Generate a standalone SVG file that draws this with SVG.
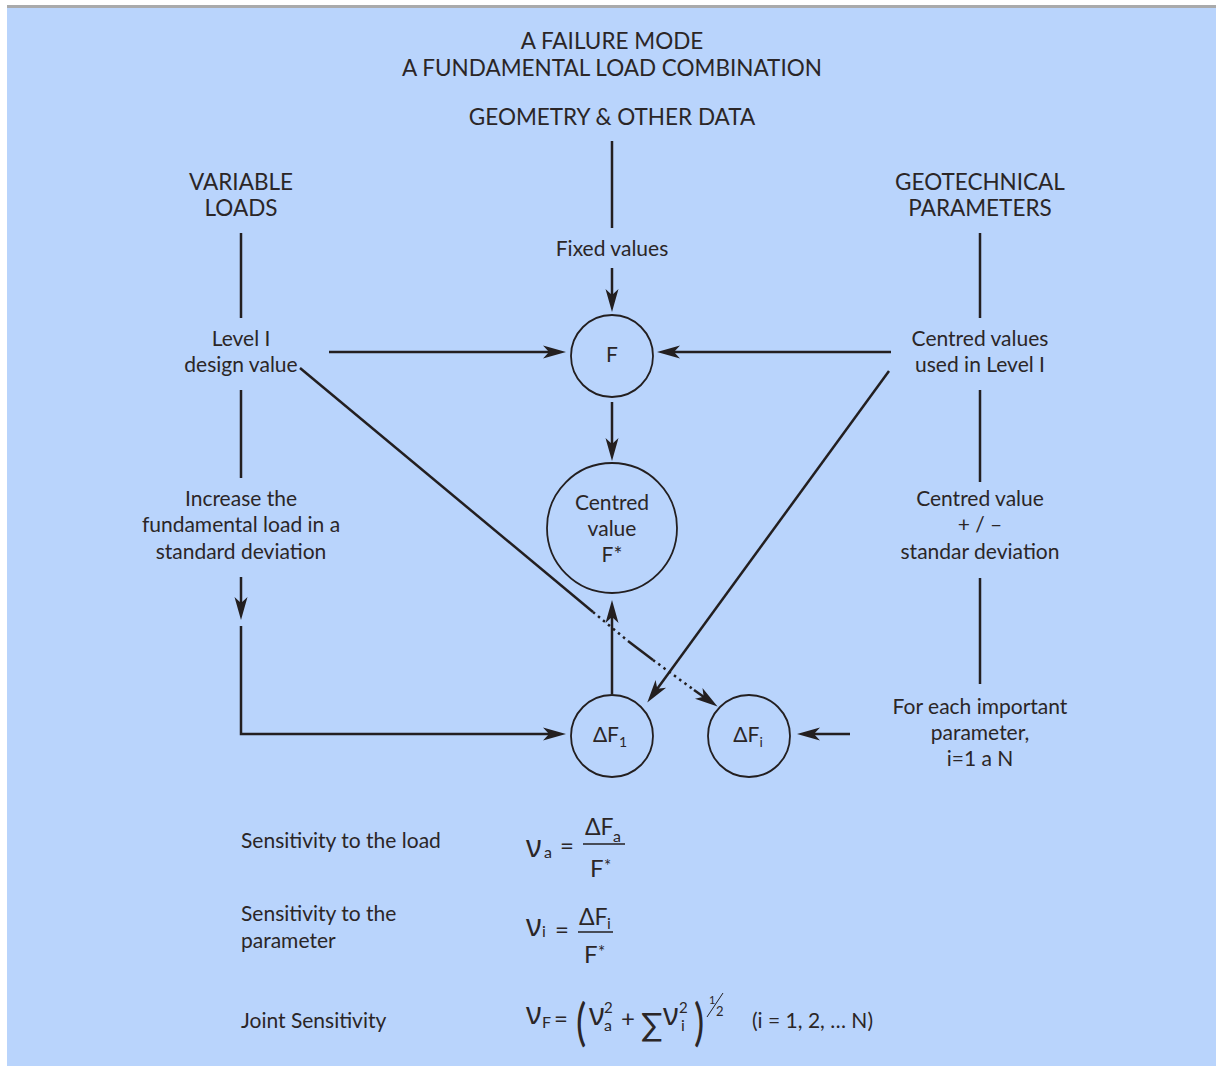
<svg xmlns="http://www.w3.org/2000/svg" width="1216" height="1066" viewBox="0 0 1216 1066">
  <style>
    .t { font-family: Lato, "Noto Sans", "DejaVu Sans", sans-serif; font-size: 21px; fill: #2b2627; text-anchor: middle; }
    .c { font-size: 22.5px; }
    .l { text-anchor: start; }
    .m { font-family: Lato, "Noto Sans", "DejaVu Sans", sans-serif; fill: #2b2627; }
    .nu { font-family: "Noto Sans", "DejaVu Sans", sans-serif; font-size: 30px; fill: #2b2627; }
    .ln { stroke: #231f20; stroke-width: 2.5; fill: none; }
    .ar { stroke: #231f20; stroke-width: 2.5; fill: none; marker-end: url(#head); }
    .dot { stroke: #231f20; stroke-width: 2.5; fill: none; stroke-dasharray: 2.5 4; }
    .node { fill: none; stroke: #231f20; stroke-width: 1.8; }
    .bar { stroke: #231f20; stroke-width: 1.6; }
  </style>
  <defs>
    <marker id="head" markerUnits="userSpaceOnUse" markerWidth="26" markerHeight="16" viewBox="0 -8 26 16" refX="15" refY="0" orient="auto">
      <path d="M0,-6.5 L23,0 L0,6.5 L6,0 Z" fill="#231f20"/>
    </marker>
  </defs>

  <!-- panel -->
  <rect x="7" y="5" width="1209" height="3" fill="#a9aaab"/>
  <rect x="7" y="8" width="1209" height="1058" fill="#b9d4fc"/>

  <!-- headings and labels -->
  <g id="titles">
    <text class="t c" x="612" y="49">A FAILURE MODE</text>
    <text class="t c" x="612" y="76">A FUNDAMENTAL LOAD COMBINATION</text>
    <text class="t c" x="612" y="125">GEOMETRY &amp; OTHER DATA</text>
  </g>
  <g id="variable-loads">
    <text class="t c" x="241" y="190">VARIABLE</text>
    <text class="t c" x="241" y="216">LOADS</text>
  </g>
  <g id="geotechnical">
    <text class="t c" x="980" y="190">GEOTECHNICAL</text>
    <text class="t c" x="980" y="216">PARAMETERS</text>
  </g>
  <g id="fixed-values">
    <text class="t" x="612" y="256">Fixed values</text>
  </g>
  <g id="level-one">
    <text class="t" x="241" y="346">Level I</text>
    <text class="t" x="241" y="372">design value</text>
  </g>
  <g id="centred-values">
    <text class="t" x="980" y="346">Centred values</text>
    <text class="t" x="980" y="372">used in Level I</text>
  </g>
  <g id="increase-load">
    <text class="t" x="241" y="506">Increase the</text>
    <text class="t" x="241" y="532">fundamental load in a</text>
    <text class="t" x="241" y="559">standard deviation</text>
  </g>
  <g id="centred-deviation">
    <text class="t" x="980" y="506">Centred value</text>
    <text class="t" x="980" y="532">+ / –</text>
    <text class="t" x="980" y="559">standar deviation</text>
  </g>
  <g id="each-parameter">
    <text class="t" x="980" y="714">For each important</text>
    <text class="t" x="980" y="740">parameter,</text>
    <text class="t" x="980" y="766">i=1 a N</text>
  </g>

  <!-- circle nodes -->
  <g id="node-F">
    <circle class="node" cx="612" cy="356" r="41"/>
    <text class="t" x="612" y="362">F</text>
  </g>
  <g id="node-Fstar">
    <circle class="node" cx="612" cy="528" r="65"/>
    <text class="t" x="612" y="510">Centred</text>
    <text class="t" x="612" y="536">value</text>
    <text class="t" x="612" y="562">F*</text>
  </g>
  <g id="node-dF1">
    <circle class="node" cx="612" cy="736" r="41"/>
    <text class="t" x="610" y="742">ΔF<tspan font-size="14" dy="5">1</tspan></text>
  </g>
  <g id="node-dFi">
    <circle class="node" cx="749" cy="736" r="41"/>
    <text class="t" x="748" y="742">ΔF<tspan font-size="14" dy="5">i</tspan></text>
  </g>

  <!-- connectors -->
  <g id="connectors">
    <line class="ln" x1="612" y1="141" x2="612" y2="228"/>
    <line class="ar" x1="612" y1="268" x2="612" y2="304"/>
    <line class="ar" x1="329" y1="352" x2="558" y2="352"/>
    <line class="ar" x1="891" y1="352" x2="665" y2="352"/>
    <line class="ar" x1="612" y1="402" x2="612" y2="453"/>
    <line class="ar" x1="612" y1="694" x2="612" y2="608"/>
    <line class="ln" x1="241" y1="233" x2="241" y2="318"/>
    <line class="ln" x1="241" y1="390" x2="241" y2="478"/>
    <line class="ar" x1="241" y1="577" x2="241" y2="612"/>
    <polyline class="ar" points="241,626 241,734 558,734"/>
    <line class="ln" x1="980" y1="233" x2="980" y2="318"/>
    <line class="ln" x1="980" y1="390" x2="980" y2="482"/>
    <line class="ln" x1="980" y1="578" x2="980" y2="684"/>
    <line class="ar" x1="850" y1="734" x2="805" y2="734"/>
    <line class="ar" x1="889" y1="371" x2="652" y2="696"/>
    <!-- diagonal from design value to ΔFi, dotted where it crosses -->
    <line class="ln" x1="300" y1="368" x2="593" y2="612"/>
    <line class="dot" x1="593" y1="612" x2="628" y2="641"/>
    <line class="ln" x1="628" y1="641" x2="653" y2="660"/>
    <line class="dot" x1="653" y1="660" x2="694" y2="690"/>
    <line class="ar" x1="694" y1="690" x2="711" y2="702"/>
  </g>

  <!-- sensitivity formulas -->
  <g id="formulas">
    <text class="t l" x="241" y="848">Sensitivity to the load</text>
    <text class="t l" x="241" y="921">Sensitivity to the</text>
    <text class="t l" x="241" y="948">parameter</text>
    <text class="t l" x="241" y="1028">Joint Sensitivity</text>

    <!-- load sensitivity -->
    <text class="nu" x="526" y="857">ν</text>
    <text class="m" x="544" y="858" font-size="16">a</text>
    <text class="m" x="560" y="854" font-size="24">=</text>
    <text class="m" x="585" y="835" font-size="23">ΔF</text>
    <text class="m" x="613" y="842" font-size="16">a</text>
    <line class="bar" x1="583" y1="844" x2="625" y2="844"/>
    <text class="m" x="590" y="877" font-size="24">F</text>
    <text class="m" x="604" y="872" font-size="17">*</text>

    <!-- parameter sensitivity -->
    <text class="nu" x="526" y="936">ν</text>
    <text class="m" x="542" y="937" font-size="16">i</text>
    <text class="m" x="555" y="938" font-size="24">=</text>
    <text class="m" x="579" y="925" font-size="23">ΔF</text>
    <text class="m" x="607" y="929" font-size="16">i</text>
    <line class="bar" x1="578" y1="932" x2="613" y2="932"/>
    <text class="m" x="584" y="963" font-size="24">F</text>
    <text class="m" x="598" y="958" font-size="17">*</text>

    <!-- joint sensitivity -->
    <text class="nu" x="526" y="1024">ν</text>
    <text class="m" x="542" y="1028" font-size="16">F</text>
    <text class="m" x="554" y="1027" font-size="24">=</text>
    <text class="m" x="576" y="1040" font-size="48" transform="translate(576 1040) scale(0.8 1.05) translate(-576 -1040)">(</text>
    <text class="nu" x="589" y="1025">ν</text>
    <text class="m" x="604" y="1013" font-size="15">2</text>
    <text class="m" x="604" y="1031" font-size="16">a</text>
    <text class="m" x="621" y="1027" font-size="24">+</text>
    <text class="m" x="641" y="1036" font-size="32">∑</text>
    <text class="nu" x="663" y="1025">ν</text>
    <text class="m" x="679" y="1013" font-size="15">2</text>
    <text class="m" x="681" y="1031" font-size="16">i</text>
    <text class="m" x="694" y="1040" font-size="48" transform="translate(694 1040) scale(0.8 1.05) translate(-694 -1040)">)</text>
    <text class="m" x="709" y="1004" font-size="11">1</text>
    <line x1="707" y1="1017" x2="723" y2="993" stroke="#231f20" stroke-width="1"/>
    <text class="m" x="716" y="1016" font-size="13">2</text>
    <text class="m" x="752" y="1028" font-size="21">(i = 1, 2, … N)</text>
  </g>
</svg>
